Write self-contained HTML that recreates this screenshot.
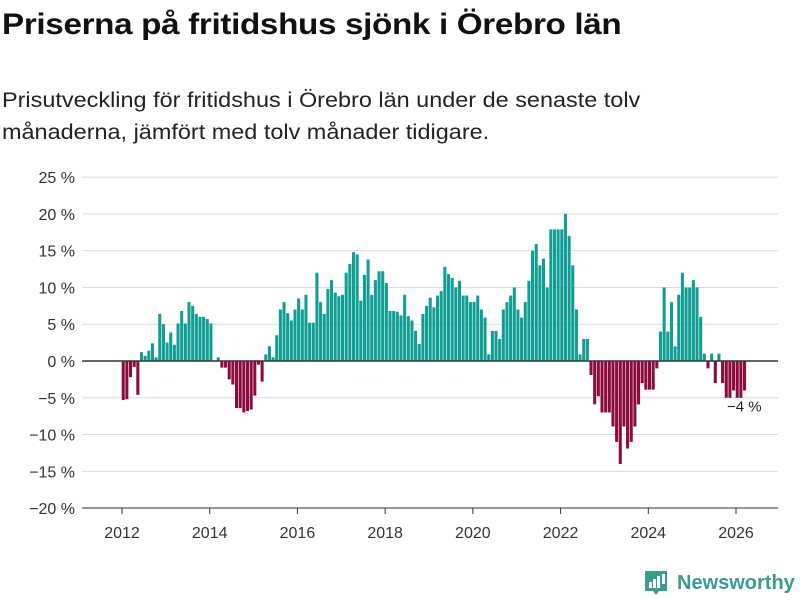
<!DOCTYPE html>
<html><head><meta charset="utf-8"><style>
body{margin:0;background:#fff;font-family:"Liberation Sans","DejaVu Sans",sans-serif;}
#wrap{position:relative;width:800px;height:600px;overflow:hidden;}
h1{position:absolute;left:2px;top:8px;margin:0;font-size:30px;font-weight:bold;color:#111;letter-spacing:-0.3px;transform:scaleX(1.107);transform-origin:0 0;white-space:nowrap;}
#sub{position:absolute;left:2px;top:84px;margin:0;font-size:21.5px;line-height:32px;color:#222;transform:scaleX(1.09);transform-origin:0 0;white-space:nowrap;}
svg text{font-family:"Liberation Sans","DejaVu Sans",sans-serif;}
</style></head><body>
<div id="wrap">
<h1>Priserna på fritidshus sjönk i Örebro län</h1>
<p id="sub">Prisutveckling för fritidshus i Örebro län under de senaste tolv<br>månaderna, jämfört med tolv månader tidigare.</p>
<svg id="chart" width="800" height="600" style="position:absolute;left:0;top:0"></svg>
</div>
<script>
const yTicks=[25,20,15,10,5,0,-5,-10,-15,-20];
const yTickLabels=["25 %","20 %","15 %","10 %","5 %","0 %","−5 %","−10 %","−15 %","−20 %"];
const xYears=[2012,2014,2016,2018,2020,2022,2024,2026];
const startYear=2012;
const values=[
-5.3,-5.2,-2.2,-0.8,-4.6,1.2,0.7,1.4,2.4,0.5,6.4,5,
2.5,3.9,2.2,5.1,6.8,5.1,8,7.5,6.4,6,6,5.7,
5.1,0,0.5,-0.9,-0.9,-2.5,-3.2,-6.4,-6.4,-7,-6.8,-6.6,
-4.7,-0.5,-2.8,0.9,2,0.5,3.5,7,8,6.5,5.5,7,
8.5,7,9,5.2,5.2,12,8,6.4,9.8,11,9.3,8.8,
9,12,13.2,14.8,14.5,8.2,11.7,13.8,9,11,12.2,12.2,
10.6,6.8,6.8,6.7,6.2,9,6.1,5.5,4.1,2.3,6.4,7.5,
8.6,7.3,8.9,9.5,12.8,11.8,11.3,10,10.9,8.9,8.9,8,
8,8.9,7,5.9,0.9,4.1,4.1,3,7,8,8.9,10,
7,5.9,8,10.9,15,15.9,13,13.9,10,17.9,17.9,17.9,
17.9,20,17,13,7,0.9,3,3,-1.9,-5.9,-4.8,-7,
-7,-7,-8.9,-11,-14,-8.9,-11.9,-11,-8.9,-5.9,-3,-3.9,
-3.9,-3.9,-1,4,10,4,8,2,9,12,10,10,
11,10,6,1,-1,1,-3,1,-3,-5,-5,-4,
-5,-5,-4];
const lastLabel="−4 %";
const NS="http://www.w3.org/2000/svg";
const svg=document.getElementById('chart');
const y=v=>361-v*(331/45);
const xm=m=>122+m*(614/168);
function mk(t,a){const e=document.createElementNS(NS,t);for(const k in a)e.setAttribute(k,a[k]);svg.appendChild(e);return e;}
yTicks.forEach((t,i)=>{
 if(t!==0){const l=mk('line',{x1:82,x2:778,y1:y(t),y2:y(t),stroke:'#dcdcdc','stroke-width':1});
 
 }
 const tx=mk('text',{x:75,y:y(t)+6,'text-anchor':'end','font-size':16,fill:'#333'});
 tx.textContent=yTickLabels[i];
 
 
});
xYears.forEach(yr=>{
 const x=xm((yr-startYear)*12);
 const tk=mk('line',{x1:x,x2:x,y1:508,y2:514,stroke:'#333','stroke-width':1});
 
 
 const tx=mk('text',{x:x,y:538,'text-anchor':'middle','font-size':16,fill:'#333'});
 tx.textContent=yr;
 
 
});
const ax=mk('line',{x1:82,x2:778,y1:508,y2:508,stroke:'#333','stroke-width':1});


values.forEach((v,i)=>{
 const x0=xm(i)-0.3, w=3.05;
 const top=Math.min(y(v),y(0)), h=Math.abs(y(v)-y(0));
 const r=mk('rect',{x:x0,y:top,width:w,height:Math.max(h,0.01),fill:v>=0?'#0f9e93':'#8c0a3d'});
 
 
});
const zl=mk('line',{x1:82,x2:778,y1:y(0),y2:y(0),stroke:'#333','stroke-width':1.5});


const lastI=values.length-1;
const lb=mk('text',{x:xm(lastI)+1,y:y(values[lastI])+21,'text-anchor':'middle','font-size':15,fill:'#222'});
lb.textContent=lastLabel;


const g=mk('g',{});


const ic=document.createElementNS(NS,'path');
ic.setAttribute('d','M645 571 h22 v20 h-8 l-3 4 l-3 -4 h-8 z');
ic.setAttribute('fill','#3a9e8f');
g.appendChild(ic);
[[649,582,3,6],[653,579,3,9],[657,576,3,12],[662,574,3,10]].forEach(b=>{
 const r=document.createElementNS(NS,'rect');
 r.setAttribute('x',b[0]);r.setAttribute('y',b[1]);r.setAttribute('width',b[2]);r.setAttribute('height',b[3]);r.setAttribute('fill','#fff');
 g.appendChild(r);
});
const lt=document.createElementNS(NS,'text');
lt.setAttribute('x',677);lt.setAttribute('y',589);lt.setAttribute('font-size',20);lt.setAttribute('font-weight','bold');lt.setAttribute('fill','#3a9e8f');
lt.textContent='Newsworthy';
g.appendChild(lt);
</script>
</body></html>
